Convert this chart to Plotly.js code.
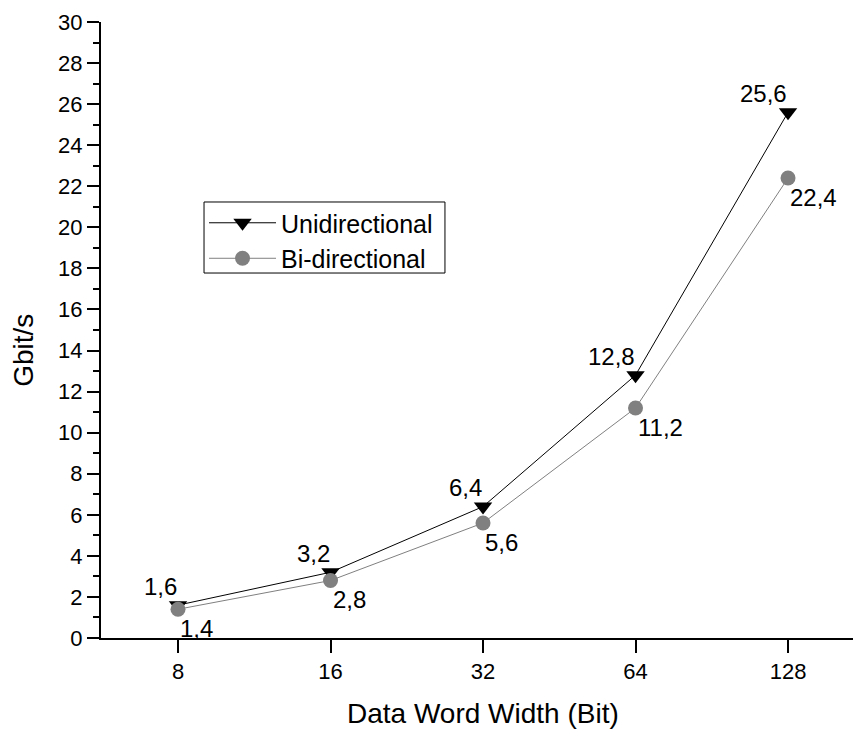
<!DOCTYPE html>
<html>
<head>
<meta charset="utf-8">
<script src="https://cdn.plot.ly/plotly-3.0.1.min.js"></script>
<style>html,body{margin:0;padding:0;background:#fff;}#chart{width:855px;height:731px;}</style>
</head>
<body>
<div id="chart"></div>
<script>
// ---- data ----
const categories = ['8', '16', '32', '64', '128'];
const uniValues = [1.6, 3.2, 6.4, 12.8, 25.6];
const biValues = [1.4, 2.8, 5.6, 11.2, 22.4];
const uniLabels = ['1,6', '3,2', '6,4', '12,8', '25,6'];
const biLabels = ['1,4', '2,8', '5,6', '11,2', '22,4'];
const seriesNames = ['Unidirectional', 'Bi-directional'];
const xTitle = 'Data Word Width (Bit)';
const yTitle = 'Gbit/s';

const FONT = 'Liberation Sans, Arial, sans-serif';

const traces = [
  {
    type: 'scatter', mode: 'lines+markers', name: seriesNames[0],
    x: categories, y: uniValues,
    line: {color: '#000000', width: 1},
    marker: {symbol: 'triangle-down', size: 16, color: '#000000'}
  },
  {
    type: 'scatter', mode: 'lines+markers', name: seriesNames[1],
    x: categories, y: biValues,
    line: {color: '#808080', width: 1},
    marker: {symbol: 'circle', size: 15, color: '#808080'}
  }
];

const annotations = [];
categories.forEach((c, i) => {
  // category axis: position annotations by category index
  annotations.push({
    xref: 'x', yref: 'y', x: i, y: uniValues[i], text: uniLabels[i],
    showarrow: false, xanchor: 'right', yanchor: 'middle', xshift: 1, yshift: 19,
    font: {family: FONT, size: 24, color: '#000'}
  });
  annotations.push({
    xref: 'x', yref: 'y', x: i, y: biValues[i], text: biLabels[i],
    showarrow: false, xanchor: 'left', yanchor: 'middle', xshift: 0, yshift: -19,
    font: {family: FONT, size: 24, color: '#000'}
  });
});
annotations.push({
  xref: 'paper', yref: 'paper', x: 0.508, y: -0.122, text: xTitle,
  showarrow: false, xanchor: 'center', yanchor: 'middle',
  font: {family: FONT, size: 28, color: '#000'}
});
annotations.push({
  xref: 'paper', yref: 'paper', x: -0.104, y: 0.4675, text: yTitle, textangle: -90,
  showarrow: false, xanchor: 'center', yanchor: 'middle',
  font: {family: FONT, size: 28, color: '#000'}
});

const layout = {
  width: 855, height: 731,
  margin: {l: 101, r: 2, t: 22, b: 93},
  paper_bgcolor: '#ffffff', plot_bgcolor: '#ffffff',
  font: {family: FONT, color: '#000'},
  showlegend: true,
  legend: {
    x: 0.137, xanchor: 'left', y: 0.711, yanchor: 'top',
    bgcolor: 'rgba(0,0,0,0)', borderwidth: 0,
    font: {family: FONT, size: 25, color: '#000'},
    itemwidth: 67, tracegroupgap: 0
  },
  shapes: [{
    type: 'rect', xref: 'paper', yref: 'paper', layer: 'below',
    x0: 0.137, x1: 0.4574, y0: 0.5925, y1: 0.7078,
    line: {color: '#000', width: 1}, fillcolor: '#ffffff'
  }],
  xaxis: {
    type: 'category', categoryorder: 'array', categoryarray: categories,
    range: [-0.505, 4.426],
    showgrid: false, zeroline: false,
    showline: true, linecolor: '#000', linewidth: 2,
    ticks: 'outside', ticklen: 13, tickwidth: 2, tickcolor: '#000',
    ticklabelstandoff: 0,
    tickfont: {family: FONT, size: 22, color: '#000'}
  },
  yaxis: {
    range: [0, 30], tick0: 0, dtick: 2,
    showgrid: false, zeroline: false,
    showline: true, linecolor: '#000', linewidth: 2,
    ticks: 'outside', ticklen: 12, tickwidth: 2, tickcolor: '#000',
    ticklabelstandoff: 0,
    tickfont: {family: FONT, size: 22, color: '#000'},
    minor: {dtick: 1, ticks: 'outside', ticklen: 6, tickwidth: 2, tickcolor: '#000', showgrid: false}
  },
  annotations: annotations
};

Plotly.newPlot('chart', traces, layout, {displayModeBar: false, staticPlot: true});
</script>
</body>
</html>
